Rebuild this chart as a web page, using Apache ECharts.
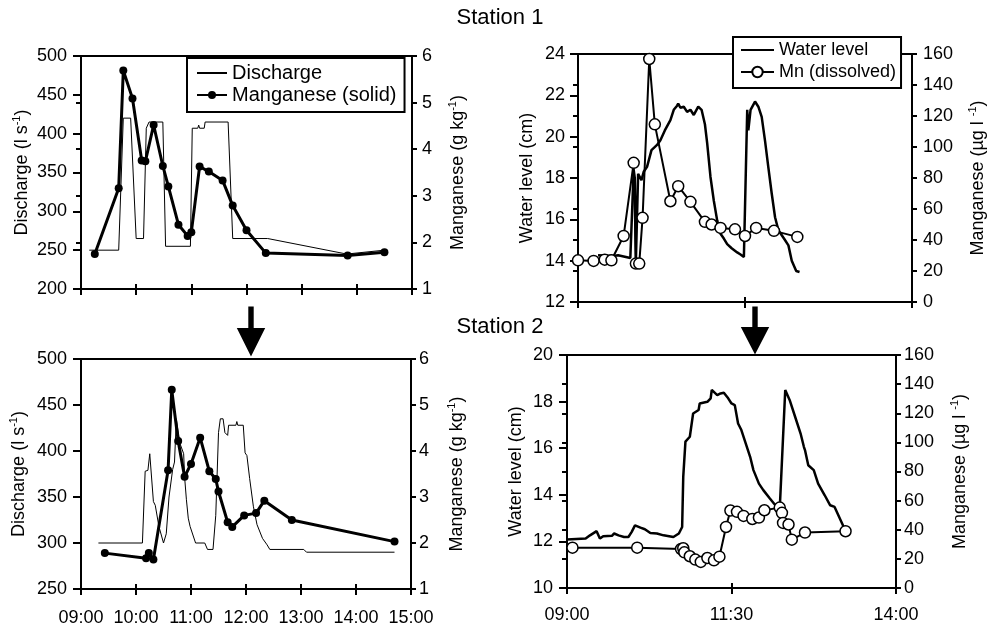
<!DOCTYPE html>
<html><head><meta charset="utf-8">
<script src="https://cdn.jsdelivr.net/npm/echarts@6/dist/echarts.min.js"></script>
<style>html,body{margin:0;padding:0;background:#fff}#c{width:989px;height:624px}</style>
</head><body><div id="c"></div>
<script>
// ---------- DATA ----------
// Station 1 – discharge (l s-1)
const s1DischargeTime = ['09:09','09:41','09:46','09:54','10:00','10:08','10:11','10:13','10:14','10:29','10:32','10:59','11:01','11:07','11:08','11:09','11:14','11:15','11:40','11:45','12:23','13:49','14:30'];
const s1DischargeVal  = [250,250,420,420,265,265,407,407,415,415,255,255,407,407,411,407,407,415,415,265,265,245,250];
// Station 1 – manganese (solid, g kg-1)
const s1MnSolidTime = ['09:15','09:41','09:46','09:56','10:06','10:10','10:19','10:29','10:35','10:46','10:56','11:00','11:09','11:19','11:34','11:45','12:00','12:21','13:50','14:30'];
const s1MnSolidVal  = [1.75,3.16,5.69,5.09,3.76,3.74,4.52,3.64,3.20,2.38,2.14,2.22,3.63,3.52,3.33,2.79,2.26,1.77,1.72,1.79];
// Station 2 – discharge (l s-1)
const s2DischargeTime = ['09:19','10:07','10:10','10:13','10:15','10:17','10:19','10:21','10:25','10:30','10:33','10:36','10:40','10:42','10:44','10:46','10:48','10:52','10:53','10:55','10:57','10:59','11:05','11:12','11:13','11:15','11:18','11:24','11:27','11:30','11:32','11:35','11:37','11:40','11:41','11:49','11:50','11:51','11:57','11:59','12:01','12:04','12:08','12:12','12:18','12:23','12:26','13:03','13:06','14:42'];
const s2DischargeVal  = [300,300,378,379,397,396,345,341,318,300,310,350,380,388,435,435,408,397,372,347,327,318,300,300,302,300,293,293,330,420,435,435,420,417,428,428,432,428,428,398,395,370,340,320,305,298,293,293,290,290];
// Station 2 – manganese (solid, g kg-1)
const s2MnSolidTime = ['09:26','10:11','10:14','10:19','10:35','10:39','10:46','10:53','11:00','11:10','11:20','11:27','11:30','11:40','11:45','11:58','12:11','12:20','12:50','14:42'];
const s2MnSolidVal  = [1.78,1.67,1.78,1.64,3.58,5.33,4.22,3.44,3.72,4.29,3.56,3.39,3.12,2.45,2.35,2.60,2.65,2.92,2.50,2.03];
// Station 1 – water level (cm)
const s1WaterTime = ['09:18','09:32','09:36','09:47','09:48','09:50','09:51','09:52','09:53','09:54','09:57','09:59','10:02','10:06','10:11','10:14','10:18','10:23','10:26','10:29','10:30','10:32','10:35','10:38','10:41','10:44','10:48','10:51','10:54','10:56','10:59','11:02','11:05','11:08','11:11','11:14','11:18','11:23','11:26','11:29','11:30','11:32','11:33','11:35','11:39','11:42','11:45','11:48','11:51','11:54','11:57','12:00','12:05','12:09','12:12','12:16','12:19'];
const s1WaterVal  = [14.26,14.23,14.26,14.13,14.13,18.4,18.0,14.0,14.0,18.2,17.9,18.3,18.54,19.35,19.6,19.83,20.3,20.8,21.3,21.5,21.6,21.4,21.45,21.2,21.3,21.05,21.45,21.3,20.6,19.7,18.05,16.9,15.95,15.3,15.07,14.8,14.6,14.4,14.3,14.18,14.2,21.3,20.3,21.3,21.7,21.45,20.96,19.8,18.5,17.25,16.1,15.47,15.07,14.74,14.0,13.5,13.45];
// Station 1 – Mn dissolved (µg l-1)
const s1MnDissTime = ['09:00','09:14','09:24','09:30','09:41','09:50','09:52','09:55','09:58','10:04','10:09','10:23','10:30','10:41','10:54','11:00','11:08','11:21','11:30','11:40','11:56','12:17'];
const s1MnDissVal  = [26.9,26.5,27.3,26.9,42.6,89.8,24.8,24.8,54.3,156.8,114.6,65.0,74.7,64.6,51.7,50.0,47.8,46.9,42.6,47.8,45.9,42.0];
// Station 2 – water level (cm)
const s2WaterTime = ['09:00','09:17','09:21','09:27','09:30','09:33','09:41','09:43','09:47','09:52','09:56','09:59','10:02','10:07','10:11','10:16','10:22','10:28','10:37','10:42','10:45','10:46','10:48','10:52','10:55','11:00','11:01','11:08','11:11','11:12','11:17','11:20','11:23','11:27','11:30','11:33','11:36','11:39','11:44','11:47','11:50','11:55','11:59','12:05','12:10','12:14','12:19','12:23','12:28','12:33','12:36','12:37','12:40','12:45','12:49','12:55','13:00','13:04','13:14'];
const s2WaterVal  = [12.08,12.12,12.26,12.44,12.12,12.22,12.24,12.34,12.26,12.19,12.19,12.41,12.69,12.59,12.52,12.36,12.34,12.26,12.19,12.34,12.62,14.77,16.28,16.49,17.49,17.64,17.92,17.99,18.14,18.5,18.28,18.35,18.38,18.14,17.92,17.85,17.06,16.78,16.06,15.63,15.06,14.48,14.2,13.84,13.55,13.41,18.5,18.07,17.35,16.63,16.06,15.92,15.27,15.06,14.48,13.98,13.55,13.48,12.45];
// Station 2 – Mn dissolved (µg l-1)
const s2MnDissTime = ['09:05','10:04','10:44','10:46','10:47','10:52','10:57','11:02','11:08','11:14','11:19','11:25','11:29','11:35','11:41','11:49','11:55','12:00','12:14','12:16','12:17','12:22','12:25','12:37','13:14'];
const s2MnDissVal  = [27.7,27.7,26.8,27.3,24.5,21.8,19.5,17.9,20.6,19.0,21.5,41.9,53.2,52.3,49.5,47.4,48.4,53.4,55.2,51.6,44.7,43.6,33.2,38.1,39.0];

const titles = ['Station 1','Station 2'];

// ---------- HELPERS ----------
const FONT = '"Liberation Sans", Arial, sans-serif';
const BLACK = '#000';
const CLEAR = 'rgba(0,0,0,0)';
function toX(t){ const p = t.split(':').map(Number); return (p[0]*60 + p[1] - 540) / 60; } // hours after 09:00
function fmtTime(v){ const m = Math.round(v*60) + 540; const h = Math.floor(m/60), mm = m % 60; return String(h).padStart(2,'0') + ':' + String(mm).padStart(2,'0'); }
function pts(times, vals){ return times.map((t,i) => [toX(t), vals[i]]); }

const grids = [
  {left:81,  top:56,  width:331, height:233},
  {left:578, top:54,  width:334, height:248},
  {left:81,  top:359, width:330, height:230},
  {left:567, top:355, width:329, height:233}
].map(g => Object.assign({show:true, borderColor:BLACK, borderWidth:2, backgroundColor:'transparent', containLabel:false, outerBoundsMode:'none'}, g));

const labelStyle = {fontSize:18, fontFamily:FONT, color:BLACK};
const richName = {
  a: {fontSize:18, fontFamily:FONT, color:BLACK, lineHeight:22},
  s: {fontSize:11, fontFamily:FONT, color:BLACK, lineHeight:11, verticalAlign:'top'}
};

function xAxes(g, max, interval, showLabels, margin){
  return [
    {type:'value', gridIndex:g, min:0, max:max, interval:interval, position:'bottom',
     axisLine:{show:true, onZero:false, lineStyle:{color:BLACK, width:2}},
     axisTick:{show:true, inside:false, length:6, lineStyle:{color:BLACK, width:2}},
     axisLabel:Object.assign({show:showLabels, formatter:fmtTime, margin:margin, showMinLabel:true, showMaxLabel:true, hideOverlap:false}, labelStyle),
     splitLine:{show:false}},
    {type:'value', gridIndex:g, min:0, max:max, interval:interval, position:'bottom',
     axisLine:{show:false}, axisTick:{show:true, inside:true, length:5, lineStyle:{color:BLACK, width:2}},
     axisLabel:{show:false}, splitLine:{show:false}}
  ];
}
function yAxes(g, L, R){
  return [
    {type:'value', gridIndex:g, position:'left', min:L.min, max:L.max, interval:L.interval,
     name:L.name, nameLocation:'middle', nameGap:L.gap, nameRotate:90,
     nameTextStyle:{fontSize:18, fontFamily:FONT, color:BLACK, rich:richName},
     axisLine:{show:true, onZero:false, lineStyle:{color:BLACK, width:2}},
     axisTick:{show:true, inside:false, length:8, lineStyle:{color:BLACK, width:2}},
     axisLabel:Object.assign({margin:L.margin, showMinLabel:true, showMaxLabel:true, hideOverlap:false}, labelStyle),
     splitLine:{show:false}},
    {type:'value', gridIndex:g, position:'right', min:R.min, max:R.max, interval:R.interval,
     name:R.name, nameLocation:'middle', nameGap:R.gap, nameRotate:90,
     nameTextStyle:{fontSize:18, fontFamily:FONT, color:BLACK, rich:richName},
     axisLine:{show:true, onZero:false, lineStyle:{color:BLACK, width:2}},
     axisTick:{show:true, inside:false, length:5, lineStyle:{color:BLACK, width:2}},
     axisLabel:Object.assign({margin:R.margin, showMinLabel:true, showMaxLabel:true, hideOverlap:false}, labelStyle),
     splitLine:{show:false}},
    {type:'value', gridIndex:g, position:'right', min:R.min, max:R.max, interval:R.interval,
     axisLine:{show:false}, axisTick:{show:true, inside:true, length:5, lineStyle:{color:BLACK, width:2}},
     axisLabel:{show:false}, splitLine:{show:false}}
  ];
}

const qName  = '{a|Discharge (l s}{s|-1}{a|)}';
const mgName = '{a|Manganese (g kg}{s|-1}{a|)}';
const wlName = '{a|Water level (cm)}';
const muName = '{a|Manganese (µg l }{s|-1}{a|)}';

const xAxis = [].concat(
  xAxes(0, 6, 1, false, 20),
  xAxes(1, 5, 2.5, false, 20),
  xAxes(2, 6, 1, true, 20),
  xAxes(3, 5, 2.5, true, 18)
);
const yAxis = [].concat(
  yAxes(0, {min:200, max:500, interval:50, name:qName, gap:48, margin:14}, {min:1, max:6, interval:1, name:mgName, gap:35, margin:10}),
  yAxes(1, {min:12, max:24, interval:2, name:wlName, gap:40, margin:13}, {min:0, max:160, interval:20, name:muName, gap:55, margin:11}),
  yAxes(2, {min:250, max:500, interval:50, name:qName, gap:51, margin:14}, {min:1, max:6, interval:1, name:mgName, gap:35, margin:8}),
  yAxes(3, {min:10, max:20, interval:2, name:wlName, gap:40, margin:14}, {min:0, max:160, interval:20, name:muName, gap:53, margin:8})
);

function thinLine(name, xi, yi, data){
  return {name, type:'line', xAxisIndex:xi, yAxisIndex:yi, data, symbol:'none', silent:true, z:2,
    itemStyle:{color:CLEAR}, lineStyle:{color:BLACK, width:1}, emphasis:{disabled:true}};
}
function solidMn(name, xi, yi, data){
  return {name, type:'line', xAxisIndex:xi, yAxisIndex:yi, data, symbol:'circle', symbolSize:8, showAllSymbol:true, silent:true, z:3,
    itemStyle:{color:BLACK, borderWidth:0}, lineStyle:{color:BLACK, width:3}, emphasis:{disabled:true}};
}
function waterLine(name, xi, yi, data){
  return {name, type:'line', xAxisIndex:xi, yAxisIndex:yi, data, symbol:'none', silent:true, z:2,
    itemStyle:{color:CLEAR}, lineStyle:{color:BLACK, width:2.5}, emphasis:{disabled:true}};
}
function dissMn(name, xi, yi, data){
  return {name, type:'line', xAxisIndex:xi, yAxisIndex:yi, data, symbol:'circle', symbolSize:11, showAllSymbol:true, silent:true, z:3,
    itemStyle:{color:'#fff', borderColor:BLACK, borderWidth:1.5}, lineStyle:{color:BLACK, width:2}, emphasis:{disabled:true}};
}

const series = [
  thinLine('Discharge', 0, 0, pts(s1DischargeTime, s1DischargeVal)),
  solidMn('Manganese (solid)', 0, 1, pts(s1MnSolidTime, s1MnSolidVal)),
  waterLine('Water level', 2, 3, pts(s1WaterTime, s1WaterVal)),
  dissMn('Mn (dissolved)', 2, 4, pts(s1MnDissTime, s1MnDissVal)),
  thinLine('Discharge (Station 2)', 4, 6, pts(s2DischargeTime, s2DischargeVal)),
  solidMn('Manganese (solid, Station 2)', 4, 7, pts(s2MnSolidTime, s2MnSolidVal)),
  waterLine('Water level (Station 2)', 6, 9, pts(s2WaterTime, s2WaterVal)),
  dissMn('Mn (dissolved, Station 2)', 6, 10, pts(s2MnDissTime, s2MnDissVal))
];

const legend = [
  {data:['Discharge','Manganese (solid)'], left:187, top:58, orient:'vertical', selectedMode:false,
   backgroundColor:'#fff', borderColor:BLACK, borderWidth:2, borderRadius:0, padding:[4,8,6,9], itemGap:0,
   itemWidth:30, itemHeight:10, textStyle:{fontSize:20, fontFamily:FONT, color:BLACK, lineHeight:22}, z:10},
  {data:['Water level','Mn (dissolved)'], left:733, top:37, orient:'vertical', selectedMode:false,
   backgroundColor:'#fff', borderColor:BLACK, borderWidth:2, borderRadius:0, padding:[2,5,5,7], itemGap:0,
   itemWidth:33, itemHeight:13, textStyle:{fontSize:18, fontFamily:FONT, color:BLACK, lineHeight:22}, z:10}
];

function arrow(cx, top, base, tip){
  const sw = 2.7, hw = 14.2;
  return {type:'polygon', silent:true, z:20,
    shape:{points:[[cx-sw,top],[cx+sw,top],[cx+sw,base],[cx+hw,base],[cx,tip],[cx-hw,base],[cx-sw,base]]},
    style:{fill:BLACK, stroke:null}};
}
const graphic = [
  {type:'text', x:500, y:17.5, silent:true, style:{text:titles[0], font:'22px ' + FONT, fill:BLACK, align:'center', verticalAlign:'middle'}},
  {type:'text', x:500, y:327, silent:true, style:{text:titles[1], font:'22px ' + FONT, fill:BLACK, align:'center', verticalAlign:'middle'}},
  arrow(251, 306.5, 328, 356.5),
  arrow(755, 306.5, 327, 354.5)
];

const chart = echarts.init(document.getElementById('c'), null, {renderer:'canvas'});
chart.setOption({
  animation:false, backgroundColor:'#fff',
  textStyle:{fontFamily:FONT, color:BLACK},
  grid:grids, xAxis, yAxis, series, legend, graphic,
  tooltip:{show:false}
});
</script>
</body></html>
